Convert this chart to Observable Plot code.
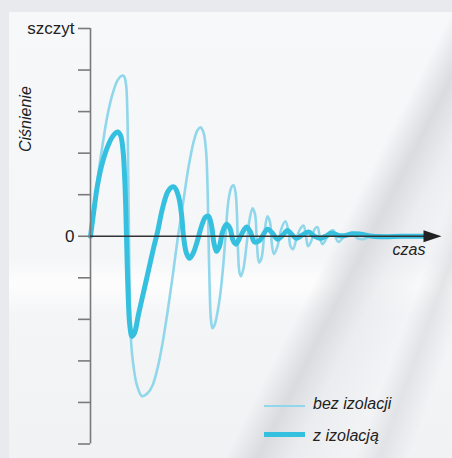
<!DOCTYPE html>
<html>
<head>
<meta charset="utf-8">
<script src="https://cdn.jsdelivr.net/npm/d3@7"></script>
<script src="https://cdn.jsdelivr.net/npm/@observablehq/plot@0.6"></script>
<style>
  html, body { margin: 0; padding: 0; }
  body {
    width: 452px; height: 458px; overflow: hidden; position: relative;
    background: #e8eaed;
    font-family: "Liberation Sans", Arial, sans-serif;
  }
  #panel {
    position: absolute; left: 9px; top: 12px; right: 0; bottom: 0;
    background:
      linear-gradient(117deg, rgba(255,255,255,0) 66%, rgba(214,215,219,0.85) 71%, rgba(232,233,236,0.7) 76%, rgba(255,255,255,0) 84%),
      linear-gradient(110deg, rgba(255,255,255,0) 84%, rgba(222,223,226,0.8) 88%, rgba(255,255,255,0) 93%),
      linear-gradient(to bottom, #f7f8fa 0%, #f5f6f8 55%, #fdfdfd 61%, #f4f5f7 68%, #f1f2f4 100%);
  }
  #chart { position: absolute; left: 0; top: 0; }
  .leg { position: absolute; font-style: italic; font-size: 16px; line-height: 16px; color: #222; }
  .sw { position: absolute; }
</style>
</head>
<body>
<div id="panel"></div>
<div id="chart"></div>
<script>
// Y axis ticks (pressure, from trough to "szczyt" = peak)
const yTicks = [-5, -4, -3, -2, -1, 0, 1, 2, 3, 4, 5];
const yTickLabels = ["", "", "", "", "", "0", "", "", "", "", "szczyt"];
const seriesNames = ["bez izolacji", "z izolacją"];
const axisNames = ["Ciśnienie", "czas"];

// bez izolacji (without insulation) — time, pressure
const bezT = [0, 4, 8, 12, 17, 22, 27, 31, 33.5, 35.5, 36.8, 37.7, 38.5, 39.3, 40.5, 43, 46.5, 51.5, 57, 62, 67, 72, 77, 82, 87.5, 93, 98, 103, 107, 110, 113, 115.5, 117, 118, 119.2, 120.5, 122, 124, 127, 130, 133, 135, 138, 141, 143, 145, 146.5, 147.5, 149, 150.5, 153, 156, 159, 162, 164.5, 166.5, 168.5, 171, 174, 177, 179.5, 181.5, 183.5, 187, 191, 195, 198, 200, 202.5, 206, 210, 213, 215.5, 217.5, 221, 224, 227, 229.5, 232, 236, 240, 243, 245.5, 248, 252, 257, 262, 267, 273, 280, 290, 305, 335];
const bezV = [0, 0.75, 1.54, 2.19, 2.91, 3.42, 3.75, 3.86, 3.85, 3.66, 3.03, 1.59, 0, -1.54, -2.5, -3.13, -3.59, -3.85, -3.78, -3.59, -3.18, -2.58, -1.83, -0.99, 0, 0.87, 1.66, 2.26, 2.55, 2.62, 2.5, 2.07, 1.23, 0, -1.3, -2.02, -2.21, -2.14, -1.83, -1.35, -0.63, 0, 0.87, 1.18, 1.23, 1.06, 0.51, -0.34, -0.87, -0.96, -0.77, -0.22, 0.39, 0.67, 0.53, -0.22, -0.63, -0.53, 0.1, 0.48, 0.34, -0.22, -0.43, -0.24, 0.19, 0.36, 0.1, -0.24, -0.31, -0.05, 0.19, 0.26, 0, -0.24, -0.1, 0.17, 0.22, -0.05, -0.19, -0.05, 0.12, 0.14, -0.05, -0.14, -0.05, 0.05, 0.07, -0.05, -0.07, 0, 0.02, -0.01, 0];

// z izolacją (with insulation) — time, pressure
const zT = [0, 3, 7, 12, 18, 23, 27, 30, 32.5, 34.5, 36, 37.5, 39.3, 41.5, 44, 48, 53, 58, 63, 67, 72, 77, 81, 84, 88, 91, 93, 96, 99, 103, 107, 111, 115, 118, 121, 123.5, 126, 129, 132, 136, 139.5, 142.5, 145.5, 150, 156, 160, 164, 169, 177, 182, 187, 192, 197, 201, 206, 211, 218, 224, 230, 235, 241, 248, 255, 262, 270, 282, 295, 310, 335];
const zV = [0, 0.55, 1.23, 1.78, 2.21, 2.43, 2.51, 2.43, 2.07, 1.23, 0, -1.3, -2.14, -2.41, -2.33, -1.88, -1.35, -0.82, -0.29, 0.1, 0.67, 1.06, 1.18, 1.18, 0.96, 0.53, 0, -0.41, -0.53, -0.39, -0.1, 0.24, 0.46, 0.48, 0.26, -0.17, -0.36, -0.24, 0.1, 0.29, 0.19, -0.1, -0.19, 0, 0.22, 0.1, -0.14, -0.1, 0.17, 0.07, -0.07, 0.02, 0.14, 0.05, -0.05, 0.02, 0.1, 0, -0.05, 0, 0.07, 0.02, 0.02, 0.06, 0.05, 0, -0.01, 0, 0];

const xAxisEnd = [335];
const arrowTip = [342];

const colLight = "#90d7eb";
const colDark = "#36c0df";

const bez = bezT.map((t, i) => ({t, v: bezV[i]}));
const ziz = zT.map((t, i) => ({t, v: zV[i]}));

const arrowSymbol = {
  draw(ctx) {
    ctx.moveTo(9, 0);
    ctx.lineTo(-9, -6);
    ctx.lineTo(-9, 6);
    ctx.closePath();
  }
};

const chart = Plot.plot({
  width: 452,
  height: 458,
  marginLeft: 90,
  marginRight: 12,
  marginTop: 28,
  marginBottom: 14.5,
  style: {background: "transparent", fontFamily: "'Liberation Sans', Arial, sans-serif", overflow: "visible"},
  x: {domain: [0, 350], axis: null},
  y: {domain: [-5, 5], axis: null},
  marks: [
    Plot.line(bez, {x: "t", y: "v", curve: "catmull-rom", stroke: colLight, strokeWidth: 2.6}),
    Plot.line(ziz, {x: "t", y: "v", curve: "catmull-rom", stroke: colDark, strokeWidth: 5}),
    Plot.ruleX([0], {y1: -5, y2: 5, stroke: "#7a7a7a", strokeWidth: 1.6}),
    Plot.axisY(yTicks, {tickSize: 12, tickFormat: () => "", stroke: "#7a7a7a", strokeWidth: 1.6, label: null}),
    Plot.axisY(yTicks, {tickSize: 0, tickPadding: 16, tickFormat: (d) => yTickLabels[yTicks.indexOf(d)], fill: "#222", fontSize: 17, label: null}),
    Plot.ruleY([0], {x1: 0, x2: xAxisEnd[0], stroke: "#333", strokeWidth: 1.5}),
    Plot.dot(arrowTip, {x: d => d, y: 0, symbol: arrowSymbol, fill: "#222", stroke: null, r: 6}),
    Plot.text([axisNames[0]], {frameAnchor: "left", textAnchor: "middle", y: 2.82, dx: -65, rotate: -90, fontSize: 16, fontStyle: "italic", fill: "#222"}),
    Plot.text([axisNames[1]], {frameAnchor: "right", y: 0, dx: -15, dy: 14, textAnchor: "end", fontSize: 16, fontStyle: "italic", fill: "#222"})
  ]
});
document.getElementById("chart").appendChild(chart);

// legend
const legend = [
  {name: seriesNames[0], color: colLight, h: 2.6, top: 404.5, textTop: 396},
  {name: seriesNames[1], color: colDark, h: 5, top: 432, textTop: 427.5}
];
for (const l of legend) {
  const sw = document.createElement("div");
  sw.className = "sw";
  sw.style.cssText = `left:264px;width:41px;top:${l.top}px;height:${l.h}px;background:${l.color}`;
  document.body.appendChild(sw);
  const tx = document.createElement("div");
  tx.className = "leg";
  tx.style.cssText = `left:313px;top:${l.textTop}px`;
  tx.textContent = l.name;
  document.body.appendChild(tx);
}
</script>
</body>
</html>
